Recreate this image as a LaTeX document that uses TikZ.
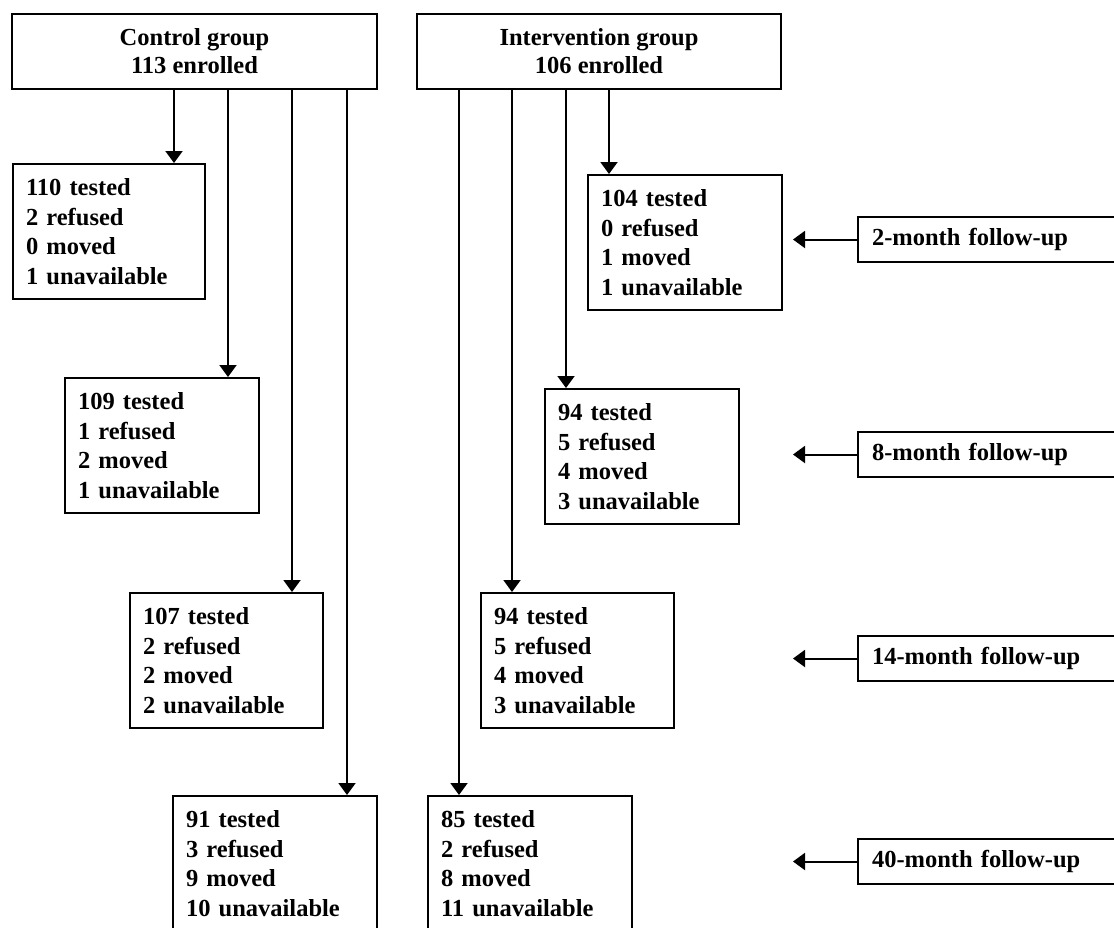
\documentclass[tikz,border=0pt]{standalone}
\usepackage{fontspec}
\setmainfont{Liberation Serif}
\usetikzlibrary{arrows.meta}
\begin{document}
\begin{tikzpicture}[x=1pt,y=-1pt,
  every node/.style={font=\bfseries\fontsize{24.5}{29.7}\selectfont},
  box/.style={draw, line width=2pt, inner sep=0pt},
  headbox/.style={box, anchor=north west, minimum width=365, minimum height=75, align=center, font=\bfseries\fontsize{24.5}{28}\selectfont},
  databox/.style={box, anchor=north west, minimum height=135, inner xsep=13pt, text width=#1, align=left},
  labelbox/.style={box, anchor=north west, minimum height=45, inner xsep=14pt, text width=260, align=left},
  arr/.style={line width=2pt, -{Triangle[width=17pt,length=12pt]}}
]
\path[use as bounding box, clip] (0,0) rectangle (1114,927);
% header boxes
\node[headbox] (ctrl) at (11,13) {Control group\\113 enrolled};
\node[headbox, minimum width=364] (intv) at (416,13) {Intervention group\\106 enrolled};
% control arm
\node[databox=166] (c1) at (12,163) {110 tested\\2 refused\\0 moved\\1 unavailable};
\node[databox=168] (c2) at (64,377) {109 tested\\1 refused\\2 moved\\1 unavailable};
\node[databox=167] (c3) at (129,592) {107 tested\\2 refused\\2 moved\\2 unavailable};
\node[databox=178] (c4) at (172,795) {91 tested\\3 refused\\9 moved\\10 unavailable};
% intervention arm
\node[databox=168] (i1) at (587,174) {104 tested\\0 refused\\1 moved\\1 unavailable};
\node[databox=168] (i2) at (544,388) {94 tested\\5 refused\\4 moved\\3 unavailable};
\node[databox=167] (i3) at (480,592) {94 tested\\5 refused\\4 moved\\3 unavailable};
\node[databox=178] (i4) at (427,795) {85 tested\\2 refused\\8 moved\\11 unavailable};
% follow-up labels
\node[labelbox] (l1) at (857,216) {2-month follow-up};
\node[labelbox] (l2) at (857,431) {8-month follow-up};
\node[labelbox] (l3) at (857,635) {14-month follow-up};
\node[labelbox] (l4) at (857,838) {40-month follow-up};
% arrow end points
\coordinate (ac1) at ([xshift=-32pt]c1.north east);
\coordinate (ac2) at ([xshift=-32pt]c2.north east);
\coordinate (ac3) at ([xshift=-32pt]c3.north east);
\coordinate (ac4) at ([xshift=-31pt]c4.north east);
\coordinate (ai1) at ([xshift=22pt]i1.north west);
\coordinate (ai2) at ([xshift=22pt]i2.north west);
\coordinate (ai3) at ([xshift=32pt]i3.north west);
\coordinate (ai4) at ([xshift=32pt]i4.north west);
\coordinate (al1) at ([xshift=-64pt]l1.west);
\coordinate (al2) at ([xshift=-64pt]l2.west);
\coordinate (al3) at ([xshift=-64pt]l3.west);
\coordinate (al4) at ([xshift=-64pt]l4.west);
% connectors
\foreach \a in {ac1,ac2,ac3,ac4} \draw[arr] (ctrl.south -| \a) -- (\a);
\foreach \a in {ai1,ai2,ai3,ai4} \draw[arr] (intv.south -| \a) -- (\a);
\draw[arr] (l1.west) -- (al1);
\draw[arr] (l2.west) -- (al2);
\draw[arr] (l3.west) -- (al3);
\draw[arr] (l4.west) -- (al4);
\end{tikzpicture}
\end{document}
